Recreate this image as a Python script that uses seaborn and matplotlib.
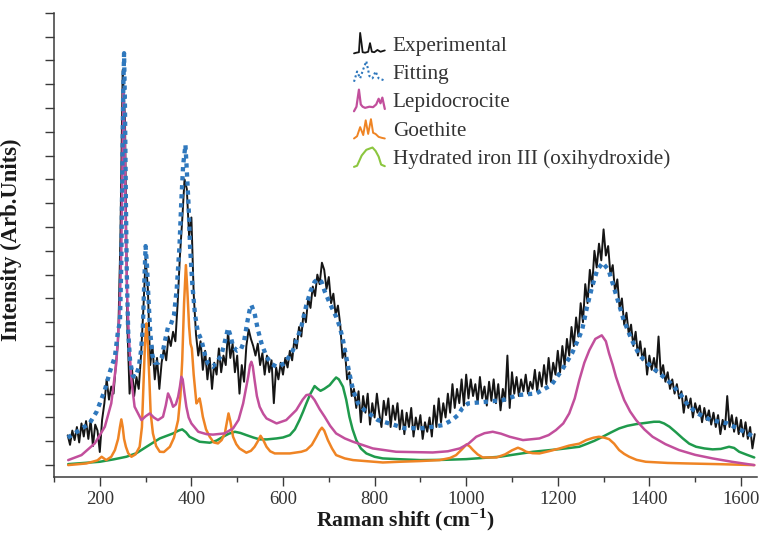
import numpy as np
import pandas as pd
import matplotlib
matplotlib.use("Agg")
import matplotlib.pyplot as plt
import seaborn as sns
from matplotlib.ticker import MultipleLocator, NullFormatter
from matplotlib.legend_handler import HandlerBase
from matplotlib.lines import Line2D

# ---------------- data ----------------
# experimental spectrum, sampled every 5 cm-1 from 130 to 1630 cm-1
exp_intensity = [
    1.25, 0.85, 1.45, 1.05, 1.6, 0.95, 1.75, 1.2, 1.85, 1.1,
    1.9, 0.8, 1.7, 1.45, 0.55, 1.9, 2.6, 3.6, 2.75, 3.3,
    3.0, 4.2, 5.2, 9.5, 16.6, 14.5, 6.0, 3.0, 4.1, 2.9,
    3.7, 3.2, 4.6, 6.5, 8.7, 7.4, 4.2, 5.0, 3.6, 4.5,
    3.2, 4.3, 4.9, 4.4, 5.4, 5.0, 5.6, 5.2, 6.8, 8.8,
    10.3, 12.0, 11.6, 9.6, 10.4, 7.2, 5.5, 4.6, 5.2, 4.0,
    4.8, 3.6, 4.5, 3.2, 4.3, 3.8, 4.9, 3.9, 4.6, 4.2,
    5.6, 4.5, 5.1, 3.9, 4.6, 3.0, 4.2, 3.5, 5.0, 5.7,
    5.3, 5.0, 4.6, 5.1, 4.2, 4.7, 3.8, 4.6, 3.9, 4.4,
    2.6, 4.1, 3.6, 4.3, 3.8, 4.5, 4.1, 4.8, 4.4, 5.3,
    4.9, 5.8, 5.4, 6.4, 6.0, 7.0, 6.6, 7.5, 7.1, 8.0,
    7.6, 8.5, 8.2, 7.4, 7.9, 6.8, 7.2, 6.3, 6.7, 5.9,
    4.5, 4.9, 3.6, 3.9, 2.9, 3.2, 2.4, 3.1, 1.8, 2.9,
    2.2, 3.0, 1.7, 2.6, 2.0, 3.0, 2.2, 1.6, 2.7, 2.1,
    2.8, 1.6, 2.5, 1.9, 2.6, 1.5, 2.3, 1.3, 2.2, 1.6,
    2.4, 1.2, 2.0, 1.5, 2.1, 1.1, 1.8, 1.4, 2.0, 1.2,
    2.5, 1.6, 2.8, 1.8, 2.6, 2.0, 3.0, 2.2, 3.4, 2.4,
    3.2, 2.6, 3.6, 2.5, 3.8, 2.8, 3.6, 2.9, 3.4, 2.6,
    3.7, 2.8, 3.3, 2.5, 3.5, 2.7, 3.6, 2.6, 3.4, 2.3,
    3.2, 2.7, 4.6, 2.4, 3.9, 3.0, 3.7, 2.9, 3.6, 3.1,
    3.8, 3.0, 3.5, 3.2, 4.0, 3.1, 3.9, 3.3, 4.2, 3.4,
    4.5, 3.5, 4.3, 3.8, 4.8, 3.9, 5.0, 4.2, 5.3, 4.6,
    5.8, 5.0, 6.2, 5.4, 6.8, 6.0, 7.6, 6.8, 8.2, 7.5,
    9.0, 8.3, 9.3, 8.6, 9.9, 8.8, 9.2, 8.0, 8.4, 7.3,
    7.8, 6.6, 7.0, 5.9, 6.4, 5.5, 5.9, 5.0, 5.6, 4.6,
    5.2, 4.4, 4.9, 3.8, 4.6, 4.0, 4.5, 3.9, 5.4, 3.8,
    4.2, 3.5, 3.9, 3.2, 3.6, 3.0, 3.4, 2.8, 3.1, 2.2,
    2.9, 2.4, 2.8, 2.0, 2.6, 2.2, 2.5, 1.8, 2.4, 1.9,
    2.3, 1.7, 2.2, 1.6, 2.1, 1.3, 1.9, 1.5, 2.9, 1.6,
    2.1, 1.4, 2.0, 1.3, 1.9, 1.2, 1.8, 1.1, 1.6, 0.7,
    1.3,
]
exp_shift = np.arange(130, 1631, 5)

# fitted envelope
fit_shift = [130, 156, 178, 193, 211, 222, 233, 240, 244, 247, 249, 251, 253,
             255, 257, 259, 262, 266, 272, 278, 285, 290, 294, 297, 300, 303,
             306, 310, 315, 320, 328, 335, 342, 349, 355, 362, 368, 374, 378,
             382, 387, 391, 394, 397, 402, 408, 414, 422, 430, 436, 447, 458,
             465, 472, 480, 486, 491, 500, 508, 515, 522, 527, 531, 538, 545,
             553, 564, 575, 586, 604, 622, 640, 651, 660, 669, 677, 684, 691,
             702, 716, 724, 731, 738, 745, 753, 764, 778, 807, 844, 865, 909,
             949, 970, 982, 992, 1004, 1044, 1080, 1113, 1153, 1186, 1209,
             1231, 1245, 1253, 1264, 1275, 1286, 1298, 1311, 1322, 1333, 1344,
             1360, 1378, 1404, 1422, 1447, 1469, 1484, 1505, 1534, 1571, 1607,
             1628]
fit_intensity = [1.15, 1.47, 1.76, 2.24, 3.15, 3.92, 4.55, 5.67, 6.0, 8.5,
                 12.0, 15.5, 17.3, 15.0, 11.0, 8.0, 5.6, 4.4, 3.75, 3.7, 4.1,
                 4.8, 5.8, 7.6, 9.2, 8.4, 7.1, 5.6, 4.6, 4.3, 4.3, 4.5, 5.2,
                 5.8, 5.9, 6.3, 7.4, 9.2, 11.1, 12.6, 13.45, 12.0, 10.85, 9.2,
                 7.6, 6.3, 5.6, 5.25, 4.6, 4.27, 4.13, 4.4, 4.6, 5.1, 5.75,
                 5.4, 4.97, 4.8, 4.85, 5.2, 6.0, 6.5, 6.72, 6.37, 5.7, 5.12,
                 4.55, 4.25, 4.13, 4.27, 4.83, 5.81, 6.72, 7.3, 7.7, 7.82, 7.7,
                 7.3, 6.8, 6.23, 5.81, 5.25, 4.55, 3.85, 3.15, 2.59, 2.31,
                 1.89, 1.68, 1.55, 1.55, 1.68, 1.9, 2.1, 2.4, 2.59, 2.66, 2.73,
                 2.94, 3.01, 3.36, 3.99, 4.69, 5.3, 5.67, 6.65, 7.49, 8.19,
                 8.5, 8.19, 7.49, 6.79, 6.09, 5.32, 4.62, 4.13, 3.85, 3.43,
                 2.94, 2.52, 2.17, 1.89, 1.75, 1.4, 1.19]

# lepidocrocite component
lep_shift = [131, 160, 189, 211, 225, 236, 243, 247, 250, 252, 254, 257, 260,
             263, 266, 269, 276, 291, 300, 309, 318, 327, 338, 344, 349, 354,
             360, 366, 371, 375, 378, 381, 385, 389, 394, 400, 415, 433, 447,
             472, 491, 503, 513, 518, 524, 528, 531, 534, 538, 543, 549, 557,
             564, 586, 607, 629, 643, 651, 657, 663, 669, 680, 691, 703, 716,
             735, 753, 796, 847, 927, 960, 986, 1005, 1022, 1040, 1058, 1076,
             1095, 1124, 1160, 1180, 1196, 1212, 1225, 1237, 1247, 1258, 1269,
             1282, 1296, 1305, 1312, 1320, 1327, 1336, 1345, 1358, 1371, 1389,
             1407, 1435, 1465, 1500, 1538, 1580, 1629]
lep_intensity = [0.21, 0.42, 0.91, 1.61, 2.59, 4.27, 6.37, 9.0, 13.5, 15.8,
                 14.0, 9.5, 7.0, 5.6, 4.5, 3.57, 2.45, 1.89, 2.05, 2.17, 2.0,
                 1.89, 2.03, 2.5, 3.01, 2.8, 2.45, 2.55, 2.87, 3.3, 3.71, 3.6,
                 3.0, 2.45, 2.0, 1.75, 1.4, 1.3, 1.28, 1.33, 1.54, 1.9, 2.59,
                 3.1, 3.71, 4.2, 4.34, 4.15, 3.57, 2.9, 2.45, 2.15, 1.96, 1.75,
                 1.89, 2.31, 2.75, 2.94, 2.96, 2.88, 2.73, 2.35, 2.03, 1.65,
                 1.33, 1.12, 0.98, 0.7, 0.56, 0.53, 0.58, 0.7, 0.9, 1.19, 1.34,
                 1.4, 1.32, 1.19, 1.05, 1.12, 1.26, 1.47, 1.75, 2.17, 2.8,
                 3.57, 4.3, 4.83, 5.3, 5.45, 5.2, 4.69, 4.2, 3.71, 3.2, 2.73,
                 2.25, 1.89, 1.5, 1.19, 0.88, 0.63, 0.43, 0.28, 0.14, 0.0]

# goethite component
goe_shift = [131, 171, 195, 204, 214, 225, 233, 240, 244, 247, 250, 253, 257,
             262, 269, 278, 287, 292, 296, 299, 302, 305, 308, 311, 316, 323,
             331, 340, 353, 362, 371, 376, 380, 384, 388, 391, 395, 398, 401,
             405, 411, 415, 418, 421, 425, 432, 440, 449, 458, 466, 473, 477,
             481, 485, 491, 498, 505, 520, 530, 538, 545, 551, 557, 564, 572,
             582, 615, 640, 651, 663, 673, 680, 685, 690, 698, 707, 716, 735,
             753, 818, 855, 900, 942, 965, 978, 990, 1001, 1008, 1015, 1025,
             1036, 1066, 1085, 1100, 1113, 1122, 1131, 1145, 1160, 1180, 1204,
             1225, 1247, 1262, 1278, 1290, 1302, 1312, 1323, 1334, 1345, 1356,
             1372, 1392, 1440, 1480, 1550, 1629]
goe_intensity = [0.0, 0.07, 0.2, 0.35, 0.21, 0.35, 0.63, 1.1, 1.6, 1.92, 1.6,
                 1.1, 0.77, 0.5, 0.35, 0.45, 0.77, 1.6, 3.71, 5.3, 5.95, 5.0,
                 3.71, 2.2, 1.33, 0.8, 0.56, 0.55, 0.77, 1.15, 1.89, 2.9, 4.41,
                 6.8, 8.4, 7.4, 5.81, 5.1, 4.9, 3.8, 2.59, 2.7, 2.8, 2.5, 2.03,
                 1.5, 1.19, 0.95, 0.91, 1.05, 1.33, 1.75, 2.17, 1.85, 1.19,
                 0.88, 0.7, 0.52, 0.6, 0.77, 1.0, 1.23, 1.05, 0.77, 0.58, 0.49,
                 0.49, 0.56, 0.63, 0.85, 1.19, 1.45, 1.57, 1.45, 1.05, 0.7,
                 0.42, 0.28, 0.21, 0.11, 0.14, 0.17, 0.21, 0.3, 0.42, 0.65,
                 0.87, 0.78, 0.63, 0.45, 0.32, 0.32, 0.45, 0.62, 0.73, 0.66,
                 0.56, 0.5, 0.49, 0.58, 0.7, 0.82, 0.9, 1.05, 1.15, 1.19, 1.15,
                 1.09, 0.9, 0.63, 0.47, 0.35, 0.22, 0.14, 0.09, 0.07, 0.04, 0.0]

# hydrated iron III (oxihydroxide) component
hyd_shift = [131, 200, 230, 258, 280, 302, 331, 360, 372, 380, 388, 396, 418,
             440, 455, 469, 482, 495, 507, 520, 535, 549, 565, 586, 600, 615,
             626, 636, 644, 651, 660, 669, 676, 682, 690, 702, 710, 716, 722,
             731, 738, 745, 752, 760, 770, 782, 800, 818, 851, 900, 950, 1000,
             1073, 1146, 1204, 1247, 1262, 1280, 1298, 1316, 1334, 1352, 1371,
             1395, 1410, 1422, 1432, 1444, 1458, 1473, 1487, 1502, 1520, 1538,
             1556, 1574, 1585, 1596, 1612, 1629]
hyd_intensity = [0.04, 0.14, 0.24, 0.35, 0.5, 0.77, 1.12, 1.33, 1.45, 1.5,
                 1.38, 1.19, 0.98, 0.94, 1.03, 1.19, 1.32, 1.4, 1.35, 1.26,
                 1.16, 1.08, 1.08, 1.12, 1.16, 1.26, 1.5, 1.89, 2.25, 2.59,
                 3.0, 3.32, 3.2, 3.12, 3.2, 3.36, 3.55, 3.68, 3.6, 3.29, 2.75,
                 2.03, 1.5, 1.05, 0.7, 0.49, 0.35, 0.28, 0.25, 0.21, 0.22,
                 0.25, 0.35, 0.56, 0.67, 0.77, 0.88, 1.02, 1.19, 1.37, 1.54,
                 1.65, 1.72, 1.78, 1.82, 1.82, 1.75, 1.61, 1.38, 1.12, 0.9,
                 0.77, 0.7, 0.66, 0.68, 0.77, 0.72, 0.56, 0.44, 0.32]

series_labels = ["Experimental", "Fitting", "Lepidocrocite", "Goethite",
                 "Hydrated iron III (oxihydroxide)"]
x_ticks = [200, 400, 600, 800, 1000, 1200, 1400, 1600]

# ---------------- style ----------------
sns.set_theme(style="ticks")
plt.rcParams["font.family"] = ["Liberation Serif", "DejaVu Serif"]
plt.rcParams["mathtext.fontset"] = "custom"
plt.rcParams["mathtext.rm"] = "Liberation Serif"
plt.rcParams["mathtext.bf"] = "Liberation Serif:bold"

C_EXP = "#151515"
C_FIT = "#2f78bd"
C_LEP = "#c24f9c"
C_GOE = "#ef8424"
C_HYD = "#1f9a4c"
C_HYD_ICON = "#8cc63f"

fig = plt.figure(figsize=(7.62, 5.33), dpi=100)
ax = fig.add_axes([54 / 762, 1 - 477 / 533, (757 - 54) / 762, (477 - 12.7) / 533])

exp_df = pd.DataFrame({"shift": exp_shift, "intensity": exp_intensity})
sns.lineplot(data=exp_df, x="shift", y="intensity", ax=ax, color=C_EXP,
             lw=1.4, estimator=None, sort=False, zorder=2)
sns.lineplot(x=hyd_shift, y=hyd_intensity, ax=ax, color=C_HYD, lw=1.8,
             estimator=None, sort=False, zorder=3)
sns.lineplot(x=goe_shift, y=goe_intensity, ax=ax, color=C_GOE, lw=1.8,
             estimator=None, sort=False, zorder=4)
sns.lineplot(x=lep_shift, y=lep_intensity, ax=ax, color=C_LEP, lw=1.8,
             estimator=None, sort=False, zorder=5)
sns.lineplot(x=fit_shift, y=fit_intensity, ax=ax, color=C_FIT, lw=3.1,
             linestyle=(0, (1, 1.1)), estimator=None, sort=False, zorder=6)

ax.set_xlim(100, 1635)
ax.set_ylim(-0.5, 19.0)

ax.xaxis.set_minor_locator(MultipleLocator(100))
ax.set_xticks(x_ticks)
ax.set_xticklabels([str(t) for t in x_ticks])
ax.set_yticks(np.arange(0, 20))
ax.yaxis.set_major_formatter(NullFormatter())

spine_col = "#3a3a3a"
for side in ("top", "right"):
    ax.spines[side].set_visible(False)
for side in ("left", "bottom"):
    ax.spines[side].set_color(spine_col)
    ax.spines[side].set_linewidth(1.1)
ax.tick_params(axis="both", which="major", direction="out", length=6.5,
               width=1.0, color=spine_col, labelsize=13.5, labelcolor="#333333",
               pad=3.5)
ax.tick_params(axis="x", which="minor", direction="out", length=3.8,
               width=1.0, color=spine_col)

ax.set_xlabel(r"Raman shift (cm$^{\mathbf{-1}}$)", fontsize=15.6,
              fontweight="bold", color="#1a1a1a", va="baseline")
ax.xaxis.set_label_coords(0.5, -0.106)
ax.set_ylabel("Intensity (Arb.Units)", fontsize=16.3, fontweight="bold",
              color="#1a1a1a")
ax.yaxis.set_label_coords(-0.046, 0.512)


# small spectrum-shaped legend keys
class SpectrumKey(HandlerBase):
    def __init__(self, xs, ys, color, lw, ls="-"):
        super().__init__()
        self.xs, self.ys = np.asarray(xs), np.asarray(ys)
        self.color, self.lw, self.ls = color, lw, ls

    def create_artists(self, legend, orig_handle, xdescent, ydescent, width,
                       height, fontsize, trans):
        px = -xdescent + self.xs * width
        py = -ydescent - 0.2 * height + self.ys * height * 1.4
        line = Line2D(px, py, color=self.color, lw=self.lw, linestyle=self.ls)
        line.set_transform(trans)
        return [line]


keys = [
    SpectrumKey([0, .08, .16, .2, .24, .28, .36, .46, .52, .58, .66, .76, .86, 1],
                [.05, .08, .1, .95, .55, .1, .08, .12, .5, .12, .1, .2, .12, .18],
                C_EXP, 1.3),
    SpectrumKey([0, .1, .2, .3, .4, .5, .6, .7, .8, .9, 1],
                [.05, .5, .2, .6, .95, .3, .2, .5, .2, .15, .1],
                C_FIT, 1.5, (0, (1, 1.2))),
    SpectrumKey([0, .08, .16, .22, .28, .36, .5, .62, .72, .8, .86, .92, 1],
                [.0, .2, .95, .3, .2, .15, .2, .18, .3, .55, .35, .6, .1],
                C_LEP, 1.6),
    SpectrumKey([0, .1, .2, .3, .38, .46, .55, .62, .7, .8, .9, 1],
                [.05, .15, .55, .2, .85, .25, .9, .3, .25, .12, .08, .05],
                C_GOE, 1.4),
    SpectrumKey([0, .1, .25, .4, .5, .6, .7, .8, .88, 1],
                [.05, .1, .55, .8, .85, .9, .75, .5, .15, .08],
                C_HYD_ICON, 1.5),
]
proxies = [Line2D([], []) for _ in series_labels]
leg = fig.legend(proxies, series_labels,
                 handler_map={p: k for p, k in zip(proxies, keys)},
                 loc="upper left", bbox_to_anchor=(354 / 762, 1 - 35 / 533),
                 frameon=False, fontsize=15.3, handlelength=1.45,
                 handleheight=0.8, handletextpad=0.38, labelspacing=0.37,
                 borderpad=0, borderaxespad=0)
for t in leg.get_texts():
    t.set_color("#333333")

fig.savefig("out.png", dpi=100)
